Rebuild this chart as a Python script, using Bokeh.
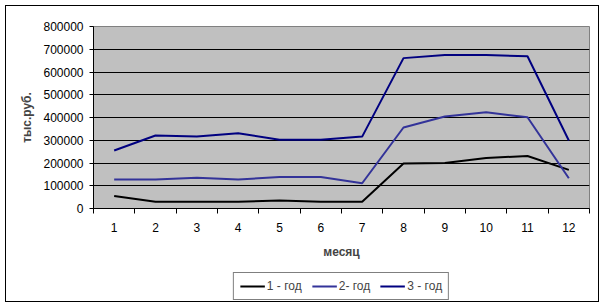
from bokeh.plotting import figure
from bokeh.layouts import column
from bokeh.models import (Range1d, FixedTicker, Legend, LegendItem)
from bokeh.embed import file_html
from bokeh.resources import INLINE

months = list(range(1, 13))
month_labels = [str(m) for m in months]
year1 = [55000, 30000, 30000, 30000, 35000, 30000, 30000, 198000, 200000, 222000, 231000, 170000]
year2 = [127000, 128000, 135000, 128000, 138000, 138000, 111000, 356000, 404000, 423000, 401000, 133000]
year3 = [255000, 321000, 316000, 331000, 302000, 302000, 316000, 661000, 675000, 675000, 669000, 299000]
series_names = ["1 - год", "2- год", "3 - год"]
y_ticks = [0, 100000, 200000, 300000, 400000, 500000, 600000, 700000, 800000]
y_tick_labels = [str(v) for v in y_ticks]

FONT = "Liberation Sans"
colors = ["black", "#333399", "#000080"]
series = [year1, year2, year3]

p = figure(width=592, height=264, output_backend="svg", toolbar_location=None,
           x_range=Range1d(0.5, 12.5), y_range=Range1d(0, 800000),
           min_border_left=87, min_border_right=9, min_border_top=20, min_border_bottom=62)

p.background_fill_color = "#c0c0c0"
p.border_fill_color = "white"
p.outline_line_color = "#808080"
p.outline_line_width = 1

p.xgrid.visible = False
p.ygrid.grid_line_color = "black"
p.ygrid.grid_line_width = 1
p.ygrid.ticker = FixedTicker(ticks=y_ticks)

xa = p.xaxis[0]
xa.ticker = FixedTicker(ticks=months, minor_ticks=[m - 0.5 for m in months] + [12.5])
xa.major_label_overrides = {m: lab for m, lab in zip(months, month_labels)}
xa.major_tick_line_color = None
xa.major_tick_out = 5
xa.major_tick_in = 0
xa.minor_tick_line_color = "black"
xa.minor_tick_out = 5
xa.minor_tick_in = 0
xa.axis_line_color = "black"
xa.major_label_text_font = FONT
xa.major_label_text_font_size = "12px"
xa.major_label_text_color = "black"
xa.major_label_standoff = 9
xa.axis_label = "месяц"
xa.axis_label_text_font = FONT
xa.axis_label_text_font_style = "bold"
xa.axis_label_text_font_size = "12px"
xa.axis_label_standoff = 10

ya = p.yaxis[0]
ya.ticker = FixedTicker(ticks=y_ticks)
ya.major_label_overrides = {v: lab for v, lab in zip(y_ticks, y_tick_labels)}
ya.minor_tick_line_color = None
ya.major_tick_out = 4
ya.major_tick_in = 0
ya.major_tick_line_color = "black"
ya.axis_line_color = "black"
ya.major_label_text_font = FONT
ya.major_label_text_font_size = "12px"
ya.major_label_text_color = "black"
ya.major_label_standoff = 6
ya.axis_label = "тыс.руб."
ya.axis_label_text_font = FONT
ya.axis_label_text_font_style = "bold"
ya.axis_label_text_font_size = "12px"
ya.axis_label_standoff = 6

for vals, c in zip(series, colors):
    p.line(months, vals, line_color=c, line_width=2)

# legend strip: same series drawn outside its visible range, used only for the legend keys
p2 = figure(width=592, height=31, output_backend="svg", toolbar_location=None,
            x_range=Range1d(100, 101), y_range=Range1d(-10, -9),
            min_border=0, min_border_left=0, min_border_right=0,
            min_border_top=0, min_border_bottom=0)
p2.axis.visible = False
p2.grid.visible = False
p2.outline_line_color = None
p2.background_fill_color = "white"
p2.border_fill_color = "white"
leg_renderers = [p2.line(months, vals, line_color=c, line_width=2) for vals, c in zip(series, colors)]

legend = Legend(items=[LegendItem(label=n, renderers=[r]) for n, r in zip(series_names, leg_renderers)],
                orientation="horizontal", location="center")
legend.border_line_color = "black"
legend.border_line_width = 1
legend.background_fill_color = "white"
legend.background_fill_alpha = 1
legend.label_text_font = FONT
legend.label_text_font_size = "12px"
legend.glyph_width = 25
legend.glyph_height = 12
legend.label_standoff = 2
legend.spacing = 10
legend.padding = 6
legend.margin = 0
p2.add_layout(legend, "center")

layout = column(p, p2, spacing=0)
layout.margin = (5, 0, 0, 5)
layout.styles = {"border": "1px solid black"}

open("out.html", "w").write(file_html(layout, INLINE))
